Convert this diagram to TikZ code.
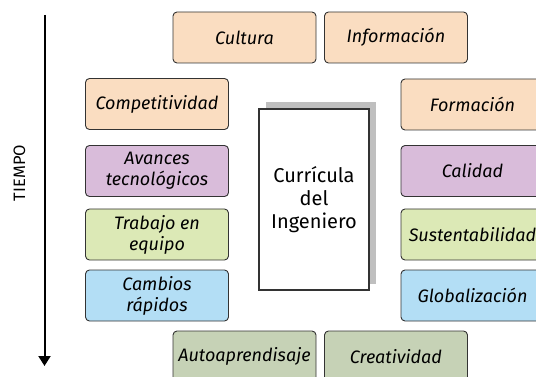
\documentclass[tikz,border=0pt]{standalone}
\usepackage{fontspec}
\setmainfont{Fira Sans}
\usepackage{tikz}
\usetikzlibrary{arrows.meta}
\definecolor{durazno}{HTML}{FADDC1}
\definecolor{lila}{HTML}{D9BCDA}
\definecolor{pistacho}{HTML}{DCE9B6}
\definecolor{celeste}{HTML}{B3DEF5}
\definecolor{salvia}{HTML}{C6D2B6}
\tikzset{tema/.style={draw=black!80, line width=0.9pt, rounded corners=4pt, minimum width=143pt, minimum height=51pt, inner sep=0pt, align=center, font=\itshape\fontsize{18}{21}\selectfont}}
\tikzset{centro/.style={draw=black!80, line width=1.1pt, fill=white, minimum width=110pt, minimum height=181pt, inner sep=0pt, align=center, font=\fontsize{20}{23}\selectfont}}

\begin{document}
\begin{tikzpicture}[x=1pt, y=-1pt]
    \useasboundingbox (0,0) rectangle (536,377);
    \clip (0,0) rectangle (536,377);

    % arriba
    \node[tema, fill=durazno] at (244.5, 37.5) (cultura) {Cultura};
    \node[tema, fill=durazno] at (396, 37.5) (informacion) {Información};

    % izquierda
    \node[tema, fill=durazno] at (157, 104) (competitividad) {Competitividad};
    \node[tema, fill=lila] at (157, 171) (avances) {Avances\\tecnológicos};
    \node[tema, fill=pistacho] at (157, 234.5) (trabajo) {Trabajo en\\equipo};
    \node[tema, fill=celeste] at (157, 295.5) (cambios) {Cambios\\rápidos};

    % derecha
    \node[tema, fill=durazno] at (472.5, 104.5) (formacion) {Formación};
    \node[tema, fill=lila] at (472.5, 171) (calidad) {Calidad};
    \node[tema, fill=pistacho] at (472.5, 234.5) (sustentabilidad) {Sustentabilidad};
    \node[tema, fill=celeste] at (472.5, 295.5) (globalizacion) {Globalización};

    % abajo
    \node[tema, fill=salvia] at (244.5, 356.5) (autoaprendisaje) {Autoaprendisaje};
    \node[tema, fill=salvia] at (396, 356.5) (creatividad) {Creatividad};

    % curricula con sombra
    \node[fill=black!25, minimum width=110pt, minimum height=181pt] at (321, 193) (sombra) {};
    \node[centro] at (314, 199.5) (curricula) {Currícula\\del\\Ingeniero};

    % eje del tiempo
    \coordinate (inicio) at (44.5, 15);
    \coordinate (fin) at (44.5, 366);
    \draw[line width=2pt, -{Triangle[length=10pt, width=12pt]}] (inicio) -- (fin);
    \node[rotate=90, font=\fontsize{16.5}{18}\selectfont] at (19.5, 173) (tiempo) {TIEMPO};
\end{tikzpicture}
\end{document}
